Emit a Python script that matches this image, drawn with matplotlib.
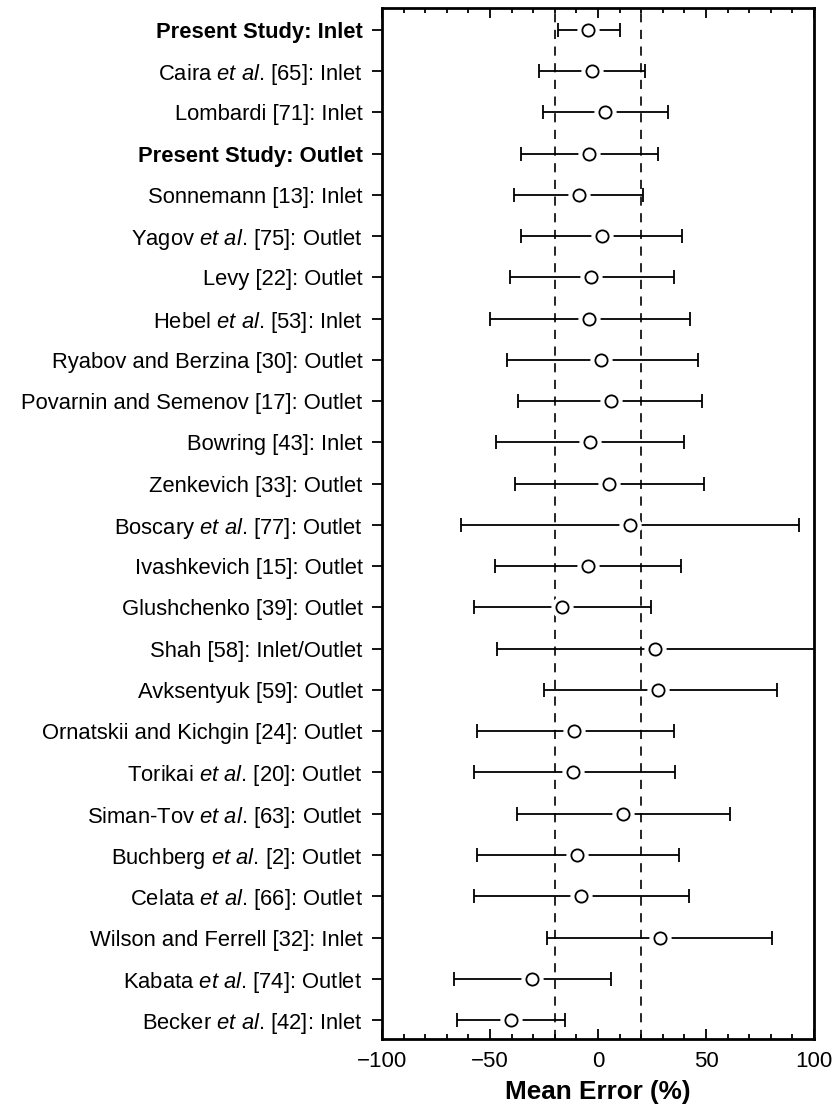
import numpy as np
import matplotlib.pyplot as plt
from matplotlib.ticker import MultipleLocator

plt.rcParams['font.family'] = 'Liberation Sans'
plt.rcParams['mathtext.fontset'] = 'custom'
plt.rcParams['mathtext.rm'] = 'Liberation Sans'
plt.rcParams['mathtext.it'] = 'Liberation Sans:italic'

# correlation / data source labels, top to bottom
labels = [
    "Present Study: Inlet",
    r"Caira $\mathit{et\ al}$. [65]: Inlet",
    "Lombardi [71]: Inlet",
    "Present Study: Outlet",
    "Sonnemann [13]: Inlet",
    r"Yagov $\mathit{et\ al}$. [75]: Outlet",
    "Levy [22]: Outlet",
    r"Hebel $\mathit{et\ al}$. [53]: Inlet",
    "Ryabov and Berzina [30]: Outlet",
    "Povarnin and Semenov [17]: Outlet",
    "Bowring [43]: Inlet",
    "Zenkevich [33]: Outlet",
    r"Boscary $\mathit{et\ al}$. [77]: Outlet",
    "Ivashkevich [15]: Outlet",
    "Glushchenko [39]: Outlet",
    "Shah [58]: Inlet/Outlet",
    "Avksentyuk [59]: Outlet",
    "Ornatskii and Kichgin [24]: Outlet",
    r"Torikai $\mathit{et\ al}$. [20]: Outlet",
    r"Siman-Tov $\mathit{et\ al}$. [63]: Outlet",
    r"Buchberg $\mathit{et\ al}$. [2]: Outlet",
    r"Celata $\mathit{et\ al}$. [66]: Outlet",
    "Wilson and Ferrell [32]: Inlet",
    r"Kabata $\mathit{et\ al}$. [74]: Outlet",
    r"Becker $\mathit{et\ al}$. [42]: Inlet",
]
bold_rows = [0, 3]

# mean error and lower / upper bounds (%)
mean_err = [-4.7, -2.6, 3.4, -4.3, -8.7, 1.9, -3.1, -4.0, 1.4, 5.8, -3.7, 5.0, 14.7,
            -4.5, -16.6, 26.2, 28.0, -11.0, -11.8, 11.8, -9.8, -8.1, 28.8, -30.5, -40.2]
lower = [-18.4, -27.1, -25.4, -35.7, -39.1, -35.5, -40.6, -49.8, -42.2, -36.9, -47.2, -38.3, -63.4,
         -47.8, -57.3, -46.9, -25.1, -56.2, -57.6, -37.7, -55.9, -57.6, -23.5, -66.8, -65.1]
upper = [10.3, 21.7, 32.4, 28.0, 21.0, 39.0, 35.2, 42.4, 46.1, 48.0, 40.0, 48.9, 93.2,
         38.5, 24.6, 125.0, 82.9, 35.4, 35.5, 61.1, 37.4, 41.9, 80.7, 6.1, -15.1]

band = [-20, 20]

mean_err = np.array(mean_err)
lower = np.array(lower)
upper = np.array(upper)
n = len(labels)
ypos = n - np.arange(n)

fig = plt.figure(figsize=(8.38, 11.05), dpi=100)
ax = fig.add_axes([382 / 838, 66 / 1105, 432 / 838, 1031 / 1105])

for b in band:
    ax.axvline(b, color='black', lw=1.2, ls=(0, (5.5, 4.5)), zorder=1)

err = np.vstack([mean_err - lower, upper - mean_err])
ax.errorbar(mean_err, ypos, xerr=err, fmt='none', ecolor='black', elinewidth=1.3,
            capsize=4.7, capthick=1.3, zorder=2)
# white halo so the bars stop short of the circles
ax.plot(mean_err, ypos, 'o', ms=15, mfc='white', mec='white', zorder=3)
ax.plot(mean_err, ypos, 'o', ms=8.8, mfc='white', mec='black', mew=1.3, zorder=4)

ax.set_xlim(-100, 100)
ax.set_ylim(0.54, n + 0.53)
ax.xaxis.set_minor_locator(MultipleLocator(10))
ax.set_xticks([-100, -50, 0, 50, 100])
ax.set_xticklabels(['\u2212100', '\u221250', '0', '50', '100'])
ax.tick_params(axis='x', which='major', direction='in', length=7.5, width=1.3,
               top=True, labelsize=16, pad=8.5)
ax.tick_params(axis='x', which='minor', direction='in', length=3.8, width=1.3, top=True)

ax.set_yticks(ypos)
ax.set_yticklabels(labels)
ax.tick_params(axis='y', direction='out', length=7, width=1.3, labelsize=15.8, pad=7)
for i in bold_rows:
    ax.get_yticklabels()[i].set_fontweight('bold')

for sp in ax.spines.values():
    sp.set_linewidth(2)

ax.set_xlabel('Mean Error (%)', fontsize=18.8, fontweight='bold', labelpad=6)

fig.savefig('out.png', dpi=100)
